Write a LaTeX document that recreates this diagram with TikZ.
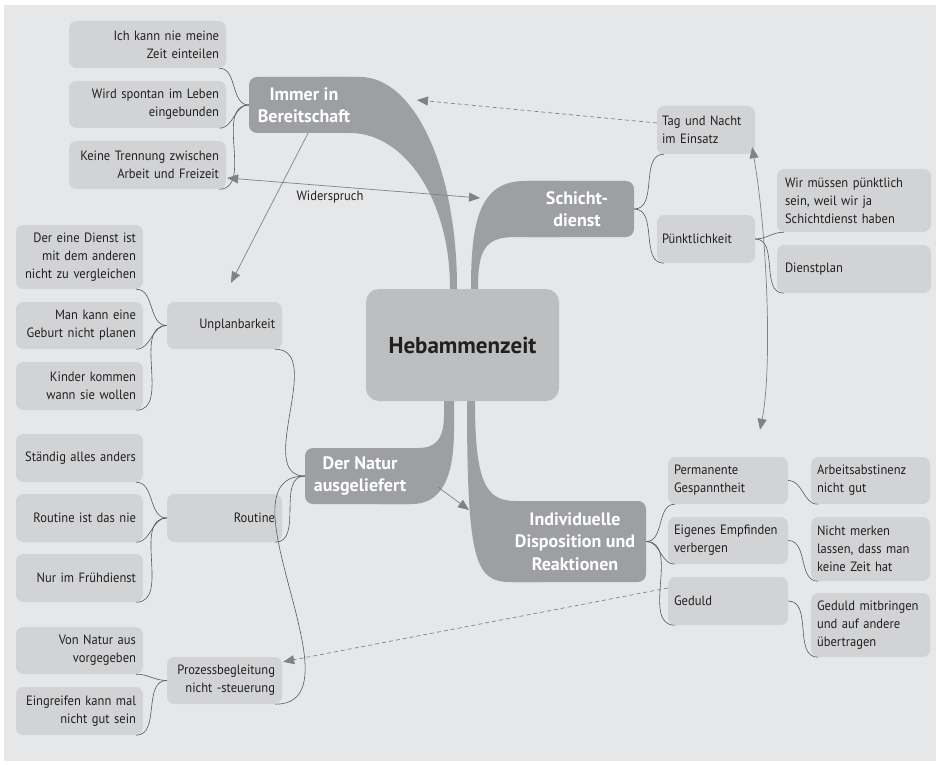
\documentclass[tikz,border=0pt]{standalone}
\usepackage{fontspec}
\setmainfont{PT Sans}[FakeStretch=0.93]
\newfontfamily\brfont{PT Sans}
\usetikzlibrary{arrows.meta,calc}
\definecolor{bgc}{HTML}{E6E7E8}
\definecolor{leafc}{HTML}{D1D3D4}
\definecolor{darkc}{HTML}{9D9FA2}
\definecolor{centc}{HTML}{BCBEC0}
\definecolor{txtc}{HTML}{231F20}
\definecolor{linec}{HTML}{58595B}
\definecolor{arrc}{HTML}{808285}
\begin{document}
\begin{tikzpicture}[x=1pt,y=-1pt,
  leaf/.style={rectangle, rounded corners=7.5pt, fill=leafc, text=txtc, inner xsep=7pt, inner ysep=2pt, font=\fontsize{13.5}{18}\selectfont},
  leafR/.style={leaf, align=right},
  leafL/.style={leaf, align=left},
  branch/.style={rectangle, rounded corners=8pt, fill=darkc, text=white, align=center, inner sep=0pt, font=\brfont\bfseries\fontsize{18}{22.5}\selectfont},
  tree/.style={draw=linec, line width=0.6pt},
  arr/.style={draw=arrc, line width=0.7pt, -{Triangle[length=11pt,width=9pt]}},
  darr/.style={draw=arrc, line width=0.7pt, {Triangle[length=11pt,width=9pt]}-{Triangle[length=11pt,width=9pt]}},
  dashline/.style={dash pattern=on 4pt off 3pt},
  lbl/.style={text=txtc, font=\fontsize{13.5}{18}\selectfont, inner sep=0pt}
]
\useasboundingbox (0,0) rectangle (940,765);
\fill[white] (0,0) rectangle (940,765);
\fill[bgc] (4,5) rectangle (936,761);

% ribbons
\fill[darkc] (320,77) -- (360,77) .. controls (415,77) and (457,170) .. (457,288) -- (457,345) -- (450,345) -- (450,288) .. controls (450,200) and (405,133) .. (350,133) -- (320,133) -- cycle;
\fill[darkc] (471,345) -- (471,288) .. controls (471,220) and (480,181) .. (525,181) -- (560,181) -- (560,237) -- (515,237) .. controls (485,237) and (478,250) .. (478,288) -- (478,345) -- cycle;
\fill[darkc] (444,345) -- (444,415) .. controls (444,440) and (435,448) .. (418,448) -- (380,448) -- (380,504) -- (412,504) .. controls (440,504) and (454,480) .. (454,430) -- (454,345) -- cycle;
\fill[darkc] (467,345) -- (467,401) .. controls (467,560) and (475,582) .. (510,582) -- (540,582) -- (540,501) -- (515,501) .. controls (485,501) and (475,480) .. (475,401) -- (475,345) -- cycle;

% branch nodes
\node[branch, minimum width=110pt, minimum height=56pt] (immer) at (304,105) {Immer in\\Bereitschaft};
\node[branch, minimum width=114pt, minimum height=56pt] (schicht) at (577,209) {Schicht-\\dienst};
\node[branch, minimum width=110pt, minimum height=56pt] (natur) at (360,476) {Der Natur\\ausgeliefert};
\node[branch, minimum width=142pt, minimum height=81pt] (indiv) at (575,541.5) {Individuelle\\Disposition und\\Reaktionen};

% center
\node[rectangle, rounded corners=13pt, fill=centc, text=txtc, minimum width=193pt, minimum height=112pt, font=\brfont\bfseries\fontsize{23}{27}\selectfont] (center) at (462.5,345) {Hebammenzeit};

% left top group
\node[leafR, minimum width=157pt, text width=143pt, minimum height=47pt] (ich) at (147.5,44.5) {Ich kann nie meine\\Zeit einteilen};
\node[leafR, minimum width=157pt, text width=143pt, minimum height=47pt] (wird) at (147.5,104.5) {Wird spontan im Leben\\eingebunden};
\node[leafR, minimum width=157pt, text width=143pt, minimum height=48pt] (keine) at (147.5,165) {Keine Trennung zwischen\\Arbeit und Freizeit};

% left mid
\node[leafR, minimum width=115pt, text width=101pt, minimum height=47pt] (unplan) at (224.5,325.5) {Unplanbarkeit};
\node[leafR, minimum width=115pt, text width=101pt, minimum height=48pt] (routine) at (224.5,518) {Routine};
\node[leafR, minimum width=115pt, text width=101pt, minimum height=47pt] (prozess) at (224.5,680.5) {Prozessbegleitung\\nicht -steuerung};

% left leaves
\node[leafR, minimum width=127pt, text width=113pt, minimum height=64pt] (dereine) at (79.5,257) {Der eine Dienst ist\\mit dem anderen\\nicht zu vergleichen};
\node[leafR, minimum width=127pt, text width=113pt, minimum height=47pt] (mankann) at (79.5,325.5) {Man kann eine\\Geburt nicht planen};
\node[leafR, minimum width=127pt, text width=113pt, minimum height=48pt] (kinder) at (79.5,386) {Kinder kommen\\wann sie wollen};
\node[leafR, minimum width=127pt, text width=113pt, minimum height=48pt] (staendig) at (79.5,458) {Ständig alles anders};
\node[leafR, minimum width=127pt, text width=113pt, minimum height=48pt] (routineist) at (79.5,518) {Routine ist das nie};
\node[leafR, minimum width=127pt, text width=113pt, minimum height=48pt] (nurim) at (79.5,578) {Nur im Frühdienst};
\node[leafR, minimum width=127pt, text width=113pt, minimum height=47pt] (vonnatur) at (79.5,650.5) {Von Natur aus\\vorgegeben};
\node[leafR, minimum width=127pt, text width=113pt, minimum height=48pt] (eingreifen) at (79.5,711) {Eingreifen kann mal\\nicht gut sein};

% right side
\node[leafL, inner xsep=5pt, minimum width=98pt, text width=88pt, minimum height=48pt] (tag) at (706,130) {Tag und Nacht\\im Einsatz};
\node[leafL, inner xsep=5pt, minimum width=98pt, text width=88pt, minimum height=48pt] (puenkt) at (706,239) {Pünktlichkeit};
\node[leafL, inner xsep=8pt, minimum width=154pt, text width=138pt, minimum height=63pt] (wir) at (854,200.5) {Wir müssen pünktlich\\sein, weil wir ja\\Schichtdienst haben};
\node[leafL, inner xsep=8pt, minimum width=154pt, text width=138pt, minimum height=48pt] (dienstplan) at (854,269) {Dienstplan};

\node[leafL, inner xsep=6pt, minimum width=120pt, text width=108pt, minimum height=47pt] (perm) at (728,480.5) {Permanente\\Gespanntheit};
\node[leafL, inner xsep=6pt, minimum width=120pt, text width=108pt, minimum height=47pt] (eigenes) at (728,540.5) {Eigenes Empfinden\\verbergen};
\node[leafL, inner xsep=6pt, minimum width=120pt, text width=108pt, minimum height=48pt] (geduld) at (728,601) {Geduld};
\node[leafL, inner xsep=6pt, minimum width=119pt, text width=107pt, minimum height=47pt] (arbeits) at (870.5,480.5) {Arbeitsabstinenz\\nicht gut};
\node[leafL, inner xsep=6pt, minimum width=119pt, text width=107pt, minimum height=64pt] (nicht) at (870.5,549) {Nicht merken\\lassen, dass man\\keine Zeit hat};
\node[leafL, inner xsep=6pt, minimum width=119pt, text width=107pt, minimum height=64pt] (gedmit) at (870.5,625) {Geduld mitbringen\\und auf andere\\übertragen};

% tree connectors (left)
\foreach \c in {ich,wird,keine} \draw[tree] (immer.west) to[out=180,in=0] ($(\c.south east)+(-7,0)$);
\foreach \c in {unplan,routine,prozess} \draw[tree] (natur.west) to[out=180,in=0] ($(\c.south east)+(-7,0)$);
\foreach \c in {dereine,mankann,kinder} \draw[tree] (unplan.west) to[out=180,in=0] ($(\c.south east)+(-7,0)$);
\foreach \c in {staendig,routineist,nurim} \draw[tree] (routine.west) to[out=180,in=0] ($(\c.south east)+(-7,0)$);
\foreach \c in {vonnatur,eingreifen} \draw[tree] (prozess.west) to[out=180,in=0] ($(\c.south east)+(-7,0)$);
% tree connectors (right)
\foreach \c in {tag,puenkt} \draw[tree] (schicht.east) to[out=0,in=180] ($(\c.south west)+(7,0)$);
\foreach \c in {wir,dienstplan} \draw[tree] (puenkt.east) to[out=0,in=180] ($(\c.south west)+(7,0)$);
\foreach \c in {perm,eigenes,geduld} \draw[tree] (indiv.east) to[out=0,in=180] ($(\c.south west)+(7,0)$);
\draw[tree] (perm.east) to[out=0,in=180] ($(arbeits.south west)+(7,0)$);
\draw[tree] (eigenes.east) to[out=0,in=180] ($(nicht.south west)+(7,0)$);
\draw[tree] (geduld.east) to[out=0,in=180] ($(gedmit.south west)+(7,0)$);

% arrows
\coordinate (wl) at ($(keine.east)+(1,13)$);
\coordinate (wr) at (480,198);
\draw[darr] (wl) -- (wr);
\node[lbl] (wid) at (330,197) {Widerspruch};

\coordinate (iu) at ($(immer.south)+(4,0)$);
\coordinate (ut) at ($(unplan.north)+(6.5,-19)$);
\draw[arr] (iu) -- (ut);

\coordinate (ta) at ($(tag.south east)+(-3,-7)$);
\coordinate (tb) at ($(perm.north)+(32,-27)$);
\draw[darr] (ta) .. controls (768,240) and (772,370) .. (tb);

\coordinate (ts) at ($(tag.west)+(0,-7)$);
\coordinate (ie) at (417,100);
\draw[arr, dashline] (ts) -- (ie);

\coordinate (gs) at ($(geduld.west)+(0,-13)$);
\coordinate (pe) at ($(prozess.north east)+(1,5)$);
\draw[arr, dashline] (gs) -- (pe);

\coordinate (ns) at (438,487);
\coordinate (ne) at (469,510);
\draw[arr] (ns) -- (ne);
\end{tikzpicture}
\end{document}
